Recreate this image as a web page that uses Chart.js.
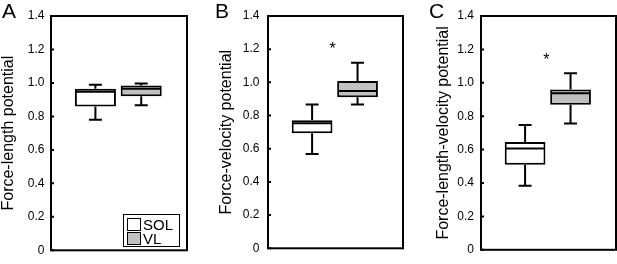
<!DOCTYPE html>
<html>
<head>
<meta charset="utf-8">
<script src="https://cdn.jsdelivr.net/npm/chart.js@4"></script>
<style>
	html, body { margin: 0; padding: 0; background: #fff; }
	body { position: relative; width: 617px; height: 264px; overflow: hidden; font-family: "Liberation Sans", Arial, sans-serif; color: #000; }
	.panel { position: absolute; top: 0; height: 264px; }
	.letter { position: absolute; top: 0; font-size: 21px; line-height: 21px; }
	.legend { position: absolute; left: 123px; top: 214px; width: 55px; height: 31px; border: 1.5px solid #000; padding: 0; }
	.legend-row { position: absolute; left: 3px; height: 13px; font-size: 15px; line-height: 13px; }
	.legend-row i { position: absolute; left: 0; top: 0; width: 12px; height: 11px; border: 1px solid #000; }
	.legend-row span { position: absolute; left: 16px; top: 0; }
</style>
</head>
<body>
<script>
	//---------------------------------------------------------
	// Data
	//---------------------------------------------------------
	const GROUPS = ["SOL", "VL"];
	const GROUP_POS = [1, 2];
	const Y_TICK_LABELS = ["0", "0.2", "0.4", "0.6", "0.8", "1.0", "1.2", "1.4"];
	const PANEL_LETTERS = ["A", "B", "C"];
	const PANEL_TITLES = ["Force-length potential", "Force-velocity potential", "Force-length-velocity potential"];

	// [low whisker, Q1, median, Q3, high whisker]
	const FL_SOL = [0.78, 0.859, 0.947, 0.966, 0.989];
	const FL_VL = [0.867, 0.921, 0.966, 0.985, 0.997];
	const FV_SOL = [0.569, 0.693, 0.753, 0.772, 0.867];
	const FV_VL = [0.867, 0.91, 0.948, 1.009, 1.119];
	const FLV_SOL = [0.383, 0.509, 0.607, 0.646, 0.747];
	const FLV_VL = [0.756, 0.869, 0.937, 0.96, 1.057];

	// significance marker (x position, y value); null where none
	const STAR_X = [null, 1.45, 1.47];
	const STAR_Y = [null, 1.224, 1.159];

	const STATS = [
		[FL_SOL, FL_VL],
		[FV_SOL, FV_VL],
		[FLV_SOL, FLV_VL],
	];

	//---------------------------------------------------------
	// Layout
	//---------------------------------------------------------
	const PANEL_LAYOUT = [
		{ left: 1, axisWidth: 50, plotWidth: 136, tickPad: 6.5, letterLeft: 2 },
		{ left: 219, axisWidth: 49, plotWidth: 135, tickPad: 8.5, letterLeft: 215 },
		{ left: 436, axisWidth: 45, plotWidth: 135, tickPad: 7, letterLeft: 429 },
	];
	const FONT = "'Liberation Sans', Arial, sans-serif";
	const FILLS = ["#ffffff", "#c0c0c0"];
	const CAP = 13;

	const boxPlotPlugin = {
		id: "boxPlot",
		afterDatasetsDraw(chart, args, opts) {
			const { ctx, chartArea, scales: { x, y } } = chart;
			const meta = chart.getDatasetMeta(0);
			ctx.save();
			ctx.strokeStyle = "#000";
			ctx.lineWidth = 2;
			ctx.beginPath();
			opts.stats.forEach((s, i) => {
				const bar = meta.data[i];
				const cx = bar.x;
				const half = bar.width / 2;
				const [lo, q1, med, q3, hi] = s.map((v) => y.getPixelForValue(v));
				ctx.moveTo(cx, q1);
				ctx.lineTo(cx, lo);
				ctx.moveTo(cx - CAP / 2, lo);
				ctx.lineTo(cx + CAP / 2, lo);
				ctx.moveTo(cx, q3);
				ctx.lineTo(cx, hi);
				ctx.moveTo(cx - CAP / 2, hi);
				ctx.lineTo(cx + CAP / 2, hi);
				ctx.moveTo(cx - half + 1, med);
				ctx.lineTo(cx + half - 1, med);
			});
			// inner tick marks
			y.ticks.forEach((t) => {
				const py = y.getPixelForValue(t.value);
				ctx.moveTo(chartArea.left, py);
				ctx.lineTo(chartArea.left + 3, py);
			});
			ctx.stroke();
			// frame
			ctx.strokeRect(chartArea.left, chartArea.top, chartArea.width, chartArea.height);
			// significance asterisk
			if (opts.starX !== null) {
				ctx.font = "16px " + FONT;
				ctx.fillStyle = "#000";
				ctx.textAlign = "center";
				ctx.textBaseline = "alphabetic";
				const m = ctx.measureText("*");
				const cy = y.getPixelForValue(opts.starY);
				const base = cy + (m.actualBoundingBoxAscent - m.actualBoundingBoxDescent) / 2;
				ctx.fillText("*", x.getPixelForValue(opts.starX), base);
			}
			ctx.restore();
		},
	};

	PANEL_LAYOUT.forEach((p, k) => {
		const wrap = document.createElement("div");
		wrap.className = "panel";
		wrap.style.left = p.left + "px";
		const canvas = document.createElement("canvas");
		canvas.width = p.axisWidth + p.plotWidth + 2;
		canvas.height = 264;
		wrap.appendChild(canvas);
		document.body.appendChild(wrap);

		const letter = document.createElement("div");
		letter.className = "letter";
		letter.style.left = p.letterLeft + "px";
		letter.textContent = PANEL_LETTERS[k];
		document.body.appendChild(letter);

		const stats = STATS[k];

		new Chart(canvas, {
			type: "bar",
			data: {
				labels: GROUPS,
				datasets: [
					{
						label: "box",
						data: GROUP_POS.map((xv, i) => ({ x: xv, y: [stats[i][1], stats[i][3]] })),
						backgroundColor: FILLS,
						borderColor: "#000",
						borderWidth: 2,
						borderSkipped: false,
						barPercentage: 0.924,
						categoryPercentage: 1,
					},
				],
			},
			options: {
				responsive: false,
				animation: false,
				events: [],
				layout: {
					padding: { left: 0, right: 2, top: 16, bottom: 7 },
				},
				scales: {
					x: {
						type: "linear",
						display: false,
						offset: false,
						min: 0.03,
						max: 3,
					},
					y: {
						min: 0,
						max: 1.4,
						border: { display: false },
						grid: { display: false, drawTicks: false },
						ticks: {
							stepSize: 0.2,
							padding: p.tickPad,
							color: "#000",
							font: { family: FONT, size: 12, lineHeight: 1.2 },
							callback: (value, index) => Y_TICK_LABELS[index],
						},
						title: {
							display: true,
							text: PANEL_TITLES[k],
							color: "#000",
							padding: 0,
							font: { family: FONT, size: 16, lineHeight: 1 },
						},
						afterFit: (scale) => {
							scale.width = p.axisWidth;
						},
					},
				},
				plugins: {
					legend: { display: false },
					tooltip: { enabled: false },
					boxPlot: {
						stats: stats,
						starX: STAR_X[k],
						starY: STAR_Y[k],
					},
				},
			},
			plugins: [boxPlotPlugin],
		});
	});

	// Legend (panel A)
	const legend = document.createElement("div");
	legend.className = "legend";
	GROUPS.forEach((g, i) => {
		const row = document.createElement("div");
		row.className = "legend-row";
		row.style.top = (3 + i * 14) + "px";
		row.innerHTML = `<i style="background:${FILLS[i]}"></i><span>${g}</span>`;
		legend.appendChild(row);
	});
	document.body.appendChild(legend);
</script>
</body>
</html>
